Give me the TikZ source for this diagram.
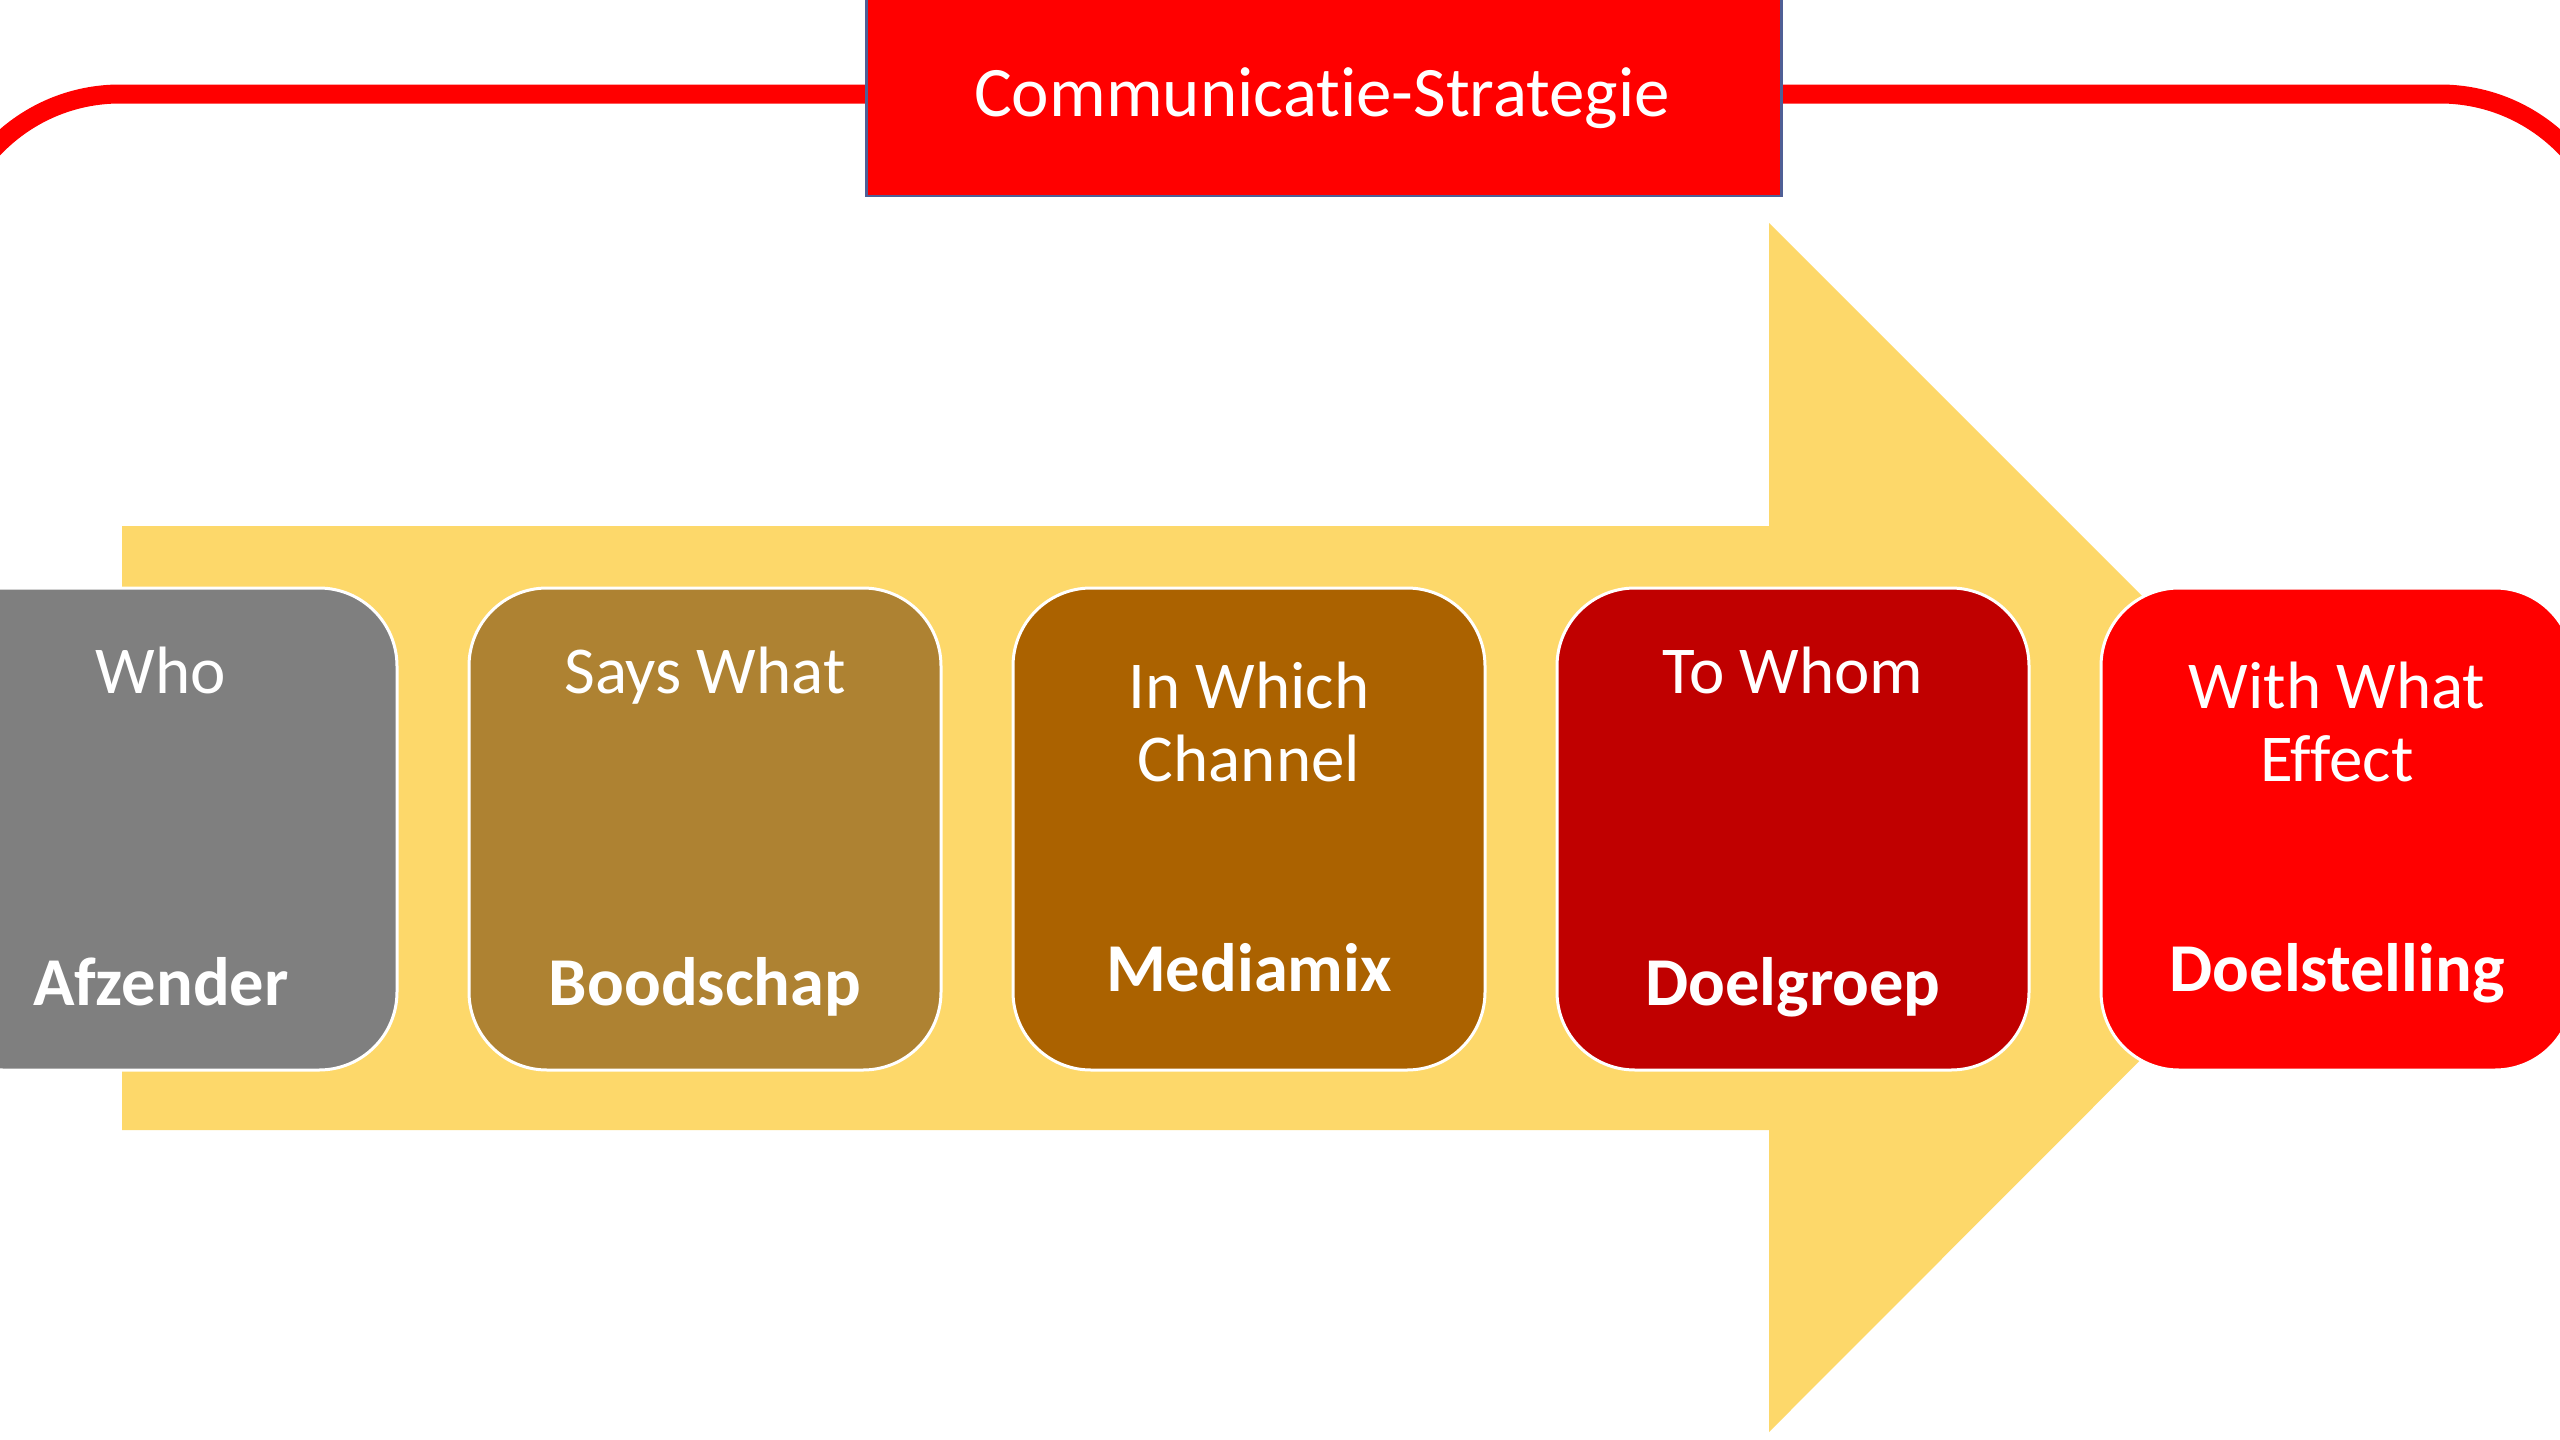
\documentclass[tikz,border=0pt]{standalone}
\usepackage{fontspec}
\setmainfont[Ligatures=NoCommon]{Carlito}
\definecolor{arrowy}{HTML}{FDD86A}
\definecolor{cgray}{HTML}{7F7F7F}
\definecolor{cgold}{HTML}{AE8232}
\definecolor{cbrown}{HTML}{AB6200}
\definecolor{cdark}{HTML}{C00000}
\definecolor{cred}{HTML}{FF0000}
\definecolor{tborder}{HTML}{4F5F96}
\tikzset{
  cbox/.style={draw=white, line width=3pt, rounded corners=78pt, minimum width=472pt, minimum height=482pt, inner sep=0pt},
  toplbl/.style={text=white, font=\fontsize{67}{73}\selectfont, anchor=base, inner sep=0pt, align=center},
  botlbl/.style={text=white, font=\bfseries\fontsize{68.5}{75}\selectfont, anchor=base, inner sep=0pt}
}
\begin{document}
\begin{tikzpicture}[x=1pt, y=-1pt]
\useasboundingbox (0,0) rectangle (2560,1440);
\clip (0,0) rectangle (2560,1440);
\fill[white] (0,0) rectangle (2560,1440);
% frame line
\draw[cred, line width=19pt, rounded corners=174pt] (-54,1700) -- (-54,94) -- (2614,94) -- (2614,1700);
% title
\node[draw=tborder, line width=2.5pt, fill=cred, minimum width=915pt, minimum height=205pt, inner sep=0pt, anchor=south west] (title) at (865,197) {};
\node[text=white, font=\fontsize{71}{80}\selectfont, inner sep=0pt, anchor=base] (titletext) at (1322,116) {Communicatie-Strategie};
% arrow
\fill[arrowy] (122,526) -- (1769,526) -- (1769,223) -- (2373,827) -- (1769,1432) -- (1769,1130) -- (122,1130) -- cycle;
% boxes
\node[cbox, fill=cgray] (b1) at (161,829) {};
\node[cbox, fill=cgold] (b2) at (705,829) {};
\node[cbox, fill=cbrown] (b3) at (1249,829) {};
\node[cbox, fill=cdark] (b4) at (1793,829) {};
\node[cbox, fill=cred] (b5) at (2337,829) {};
% labels
\node[toplbl] (t1) at (161,693) {Who};
\node[toplbl] (t2) at (705,693) {Says What};
\node[toplbl] (t3a) at (1249,708) {In Which};
\node[toplbl] (t3b) at (1249,781) {Channel};
\node[toplbl] (t4) at (1793,693) {To Whom};
\node[toplbl] (t5a) at (2337,708) {With What};
\node[toplbl] (t5b) at (2337,781) {Effect};
\node[botlbl] (l1) at (161,1005) {Afzender};
\node[botlbl] (l2) at (705,1005) {Boodschap};
\node[botlbl] (l3) at (1249,991) {Mediamix};
\node[botlbl] (l4) at (1793,1005) {Doelgroep};
\node[botlbl] (l5) at (2337,991) {Doelstelling};
\end{tikzpicture}
\end{document}
